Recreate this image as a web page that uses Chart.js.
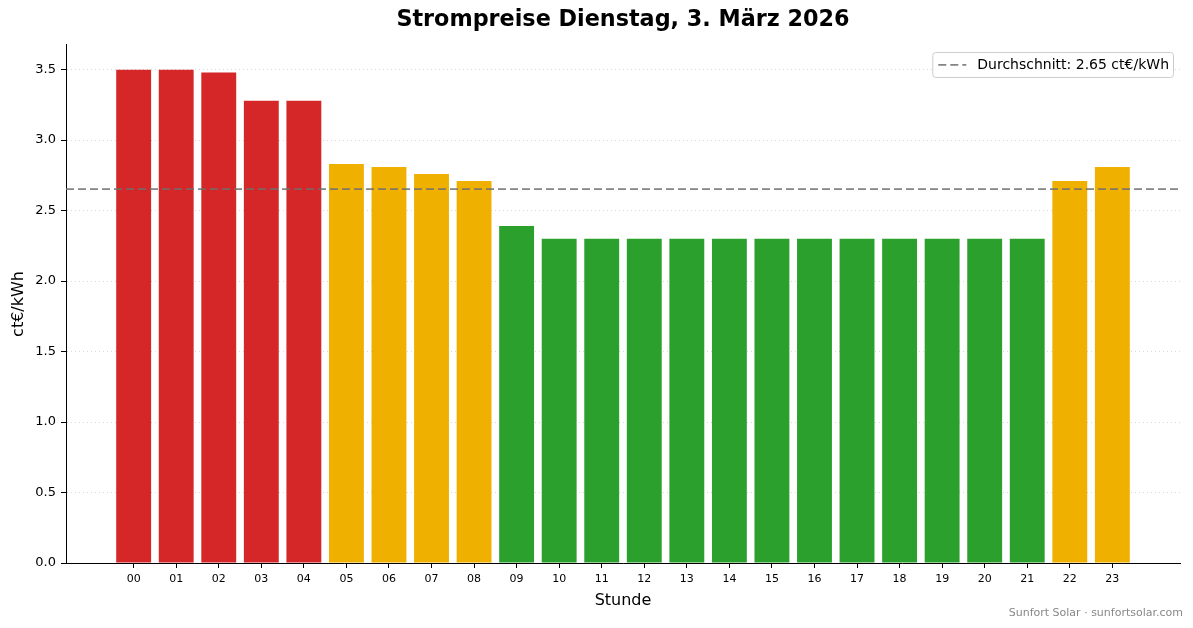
<!DOCTYPE html>
<html lang="de">
<head>
<meta charset="utf-8">
<title>Strompreise</title>
<script src="https://cdn.jsdelivr.net/npm/chart.js@4.4.1/dist/chart.umd.min.js"></script>
<style>
	html, body { margin: 0; padding: 0; background: #fff; }
	#wrap { width: 1193px; height: 628px; position: relative; }
</style>
</head>
<body>
<div id="wrap"><canvas id="priceChart"></canvas></div>
<script>
// Stunden und Preise (ct/kWh)
const hours = ['00', '01', '02', '03', '04', '05', '06', '07', '08', '09', '10', '11',
	'12', '13', '14', '15', '16', '17', '18', '19', '20', '21', '22', '23'];
const prices = [3.50, 3.50, 3.48, 3.28, 3.28, 2.83, 2.81, 2.76, 2.71, 2.39, 2.30, 2.30,
	2.30, 2.30, 2.30, 2.30, 2.30, 2.30, 2.30, 2.30, 2.30, 2.30, 2.71, 2.81];
const yTicks = [0, 0.5, 1.0, 1.5, 2.0, 2.5, 3.0, 3.5];

const FONT = "'DejaVu Sans', sans-serif";
const RED = '#d62728';
const ORANGE = '#f0b000';
const GREEN = '#2ca02c';
const AVG_COLOR = 'rgba(110,110,110,0.85)';

const average = prices.reduce((a, b) => a + b, 0) / prices.length;
const barColors = prices.map(v => v >= 3.0 ? RED : (v >= 2.5 ? ORANGE : GREEN));

// matplotlib-like limits: bar width 0.8, 5% margins
const barW = 0.8;
const span = (hours.length - 1 + barW);
const xMin = -barW / 2 - span * 0.05;
const xMax = hours.length - 1 + barW / 2 + span * 0.05;
const yMax = Math.max(...prices) * 1.05;

const boxedLegend = {
	id: 'boxedLegend',
	afterDraw(chart) {
		const {ctx, chartArea} = chart;
		const ds = chart.data.datasets[1];
		ctx.save();
		ctx.font = '14px ' + FONT;
		const tw = ctx.measureText(ds.label).width;
		const w = 6 + 28 + 11 + tw + 4;
		const h = 25;
		const x = chartArea.right - 7 - w;
		const y = chartArea.top + 7;
		ctx.beginPath();
		ctx.roundRect(x + 0.5, y + 0.5, w, h, 3);
		ctx.fillStyle = 'rgba(255,255,255,0.8)';
		ctx.fill();
		ctx.strokeStyle = '#cccccc';
		ctx.lineWidth = 1;
		ctx.stroke();
		ctx.beginPath();
		ctx.setLineDash(ds.borderDash);
		ctx.strokeStyle = ds.borderColor;
		ctx.lineWidth = ds.borderWidth;
		ctx.moveTo(x + 6, y + h / 2 + 0.5);
		ctx.lineTo(x + 34, y + h / 2 + 0.5);
		ctx.stroke();
		ctx.setLineDash([]);
		ctx.fillStyle = '#000';
		ctx.textAlign = 'left';
		ctx.textBaseline = 'middle';
		ctx.fillText(ds.label, x + 45, y + h / 2 + 1);
		ctx.restore();
	}
};

const footer = {
	id: 'footer',
	afterDraw(chart) {
		const ctx = chart.ctx;
		ctx.save();
		ctx.font = '11px ' + FONT;
		ctx.fillStyle = '#888888';
		ctx.textAlign = 'right';
		ctx.textBaseline = 'middle';
		ctx.fillText('Sunfort Solar · sunfortsolar.com', 1183, 613);
		ctx.restore();
	}
};

const ctx = document.getElementById('priceChart');
new Chart(ctx, {
	type: 'bar',
	data: {
		datasets: [{
			label: 'Preis',
			data: prices.map((v, i) => ({x: i, y: v})),
			backgroundColor: barColors,
			borderWidth: 0,
			categoryPercentage: 1,
			barPercentage: 0.82,
			order: 2
		}, {
			type: 'line',
			label: 'Durchschnitt: ' + average.toFixed(2) + ' ct€/kWh',
			data: [{x: xMin, y: average}, {x: xMax, y: average}],
			borderColor: AVG_COLOR,
			borderWidth: 1.8,
			borderDash: [8, 4],
			pointRadius: 0,
			fill: false,
			order: 1
		}]
	},
	options: {
		responsive: true,
		maintainAspectRatio: false,
		animation: false,
		devicePixelRatio: 1,
		layout: {
			padding: {left: 0, right: 13, top: 0, bottom: 0}
		},
		plugins: {
			legend: {display: false},
			tooltip: {enabled: false},
			title: {
				display: true,
				fullSize: false,
				text: 'Strompreise Dienstag, 3. März 2026',
				color: '#000',
				font: {family: FONT, size: 22.3, weight: 'bold'},
				padding: {top: 7, bottom: 11.2}
			}
		},
		scales: {
			x: {
				type: 'linear',
				min: xMin,
				max: xMax,
				offset: false,
				afterBuildTicks: scale => {
					scale.ticks = hours.map((h, i) => ({value: i}));
				},
				afterFit: scale => { scale.height = 65; },
				ticks: {
					autoSkip: false,
					maxRotation: 0,
					padding: 5,
					color: '#000',
					font: {family: FONT, size: 11},
					callback: (value) => hours[value] ?? ''
				},
				grid: {
					display: true,
					offset: false,
					drawOnChartArea: false,
					drawTicks: true,
					tickLength: 5,
					tickColor: '#000',
					tickWidth: 1
				},
				border: {display: true, color: '#000', width: 1},
				title: {
					display: true,
					text: 'Stunde',
					color: '#000',
					font: {family: FONT, size: 16},
					padding: {top: 0, bottom: 18}
				}
			},
			y: {
				min: 0,
				max: yMax,
				afterBuildTicks: scale => {
					scale.ticks = yTicks.map(v => ({value: v}));
				},
				afterFit: scale => { scale.width = 66; },
				ticks: {
					padding: 5,
					color: '#000',
					font: {family: FONT, size: 13},
					callback: (value) => Number(value).toFixed(1)
				},
				grid: {
					display: true,
					color: '#d6d6d6',
					lineWidth: 1,
					drawTicks: true,
					tickLength: 5,
					tickColor: '#000',
					tickWidth: 1,
					tickBorderDash: []
				},
				border: {display: true, color: '#000', width: 1, dash: [1, 3]},
				title: {
					display: true,
					text: 'ct€/kWh',
					color: '#000',
					font: {family: FONT, size: 16},
					padding: {top: 9, bottom: 0}
				}
			}
		}
	},
	plugins: [boxedLegend, footer]
});
</script>
</body>
</html>
